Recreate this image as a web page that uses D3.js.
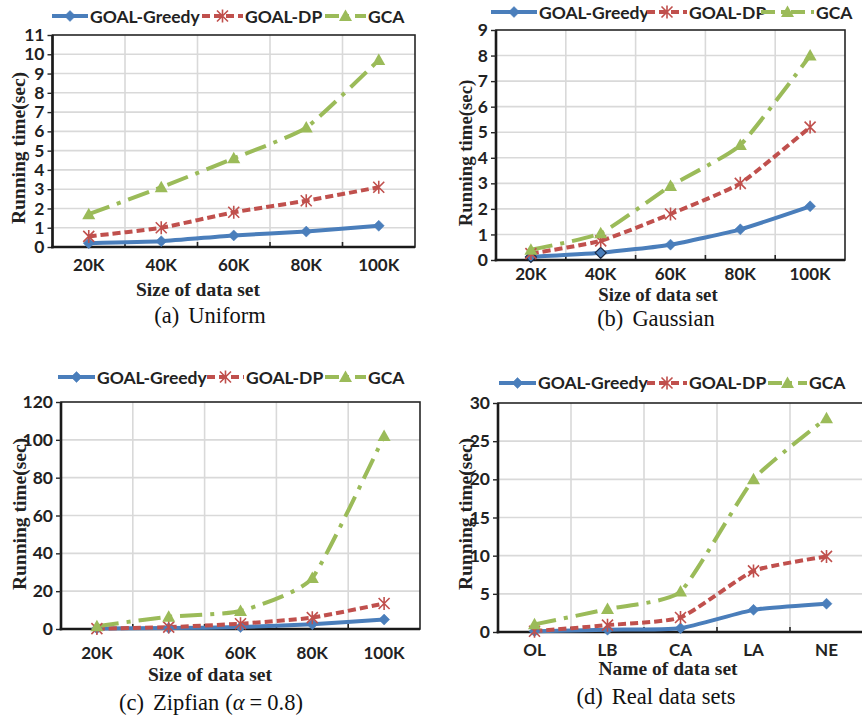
<!DOCTYPE html>
<html><head><meta charset="utf-8">
<script src="https://cdn.jsdelivr.net/npm/d3@7"></script>
<style>body{margin:0;background:#fff;} svg{display:block;}</style>
</head><body><svg id="c" width="862" height="720"></svg>
<script>
// ---------------- data ----------------
const seriesNames = ["GOAL-Greedy", "GOAL-DP", "GCA"];
const sizeCategories = ["20K", "40K", "60K", "80K", "100K"];
const realCategories = ["OL", "LB", "CA", "LA", "NE"];

const uniformGreedy = [0.2, 0.3, 0.6, 0.8, 1.1];
const uniformDP     = [0.55, 1.0, 1.8, 2.4, 3.1];
const uniformGCA    = [1.7, 3.1, 4.6, 6.2, 9.7];
const uniformTicks  = [0, 1, 2, 3, 4, 5, 6, 7, 8, 9, 10, 11];

const gaussianGreedy = [0.12, 0.28, 0.6, 1.2, 2.1];
const gaussianDP     = [0.25, 0.75, 1.8, 3.0, 5.2];
const gaussianGCA    = [0.4, 1.05, 2.9, 4.5, 8.0];
const gaussianTicks  = [0, 1, 2, 3, 4, 5, 6, 7, 8, 9];

const zipfGreedy = [0.3, 0.5, 1.0, 2.5, 5.0];
const zipfDP     = [0.2, 1.0, 2.8, 6.0, 13.5];
const zipfGCA    = [1.5, 6.5, 9.5, 27, 102];
const zipfTicks  = [0, 20, 40, 60, 80, 100, 120];

const realGreedy = [0.1, 0.3, 0.5, 2.9, 3.7];
const realDP     = [0.1, 0.9, 1.9, 8.0, 9.9];
const realGCA    = [1.0, 3.0, 5.3, 20, 28];
const realTicks  = [0, 5, 10, 15, 20, 25, 30];

const yTitle = "Running time(sec)";
const xTitleSize = "Size of data set";
const xTitleName = "Name of data set";

// ---------------- styles / layout ----------------
const colors = ["#4A7EBB", "#C0504D", "#9BBB59"];
const dashes = [null, "8,4", "22,8,4,8"];
const tickFont = "Lato, 'Open Sans', sans-serif";
const serif = "'Liberation Serif', 'Times New Roman', serif";

const panels = [
  { cats: sizeCategories, series: [uniformGreedy, uniformDP, uniformGCA], ticks: uniformTicks,
    left: 52.5, right: 415, top: 35, bottom: 247,
    legY: 16, legBase: 23, legS: [52, 202, 325], legT: [90, 245, 368],
    yT: [25, 148], yTSize: 19.5, xT: xTitleSize, xTPos: [198, 296], xTSize: 19.5, xTickBase: 271,
    cap: ["(a)", "Uniform"], capPos: [210, 323] },
  { cats: sizeCategories, series: [gaussianGreedy, gaussianDP, gaussianGCA], ticks: gaussianTicks,
    left: 496, right: 845, top: 30, bottom: 260, outlined: [0, 1],
    legY: 12, legBase: 18.5, legS: [491, 647, 761], legT: [539, 689, 816],
    yT: [472, 153], yTSize: 18.8, xT: xTitleSize, xTPos: [658, 300.5], xTSize: 18.8, xTickBase: 279.5,
    cap: ["(b)", "Gaussian"], capPos: [656, 326] },
  { cats: sizeCategories, series: [zipfGreedy, zipfDP, zipfGCA], ticks: zipfTicks,
    left: 61, right: 420, top: 402, bottom: 629,
    legY: 377, legBase: 384, legS: [58, 207, 325], legT: [97, 246, 368],
    yT: [26, 514], yTSize: 19.5, xT: xTitleSize, xTPos: [210, 681], xTSize: 19.5, xTickBase: 659,
    cap: ["(c)", "Zipfian"], capZipf: true, capPos: [211, 710] },
  { cats: realCategories, series: [realGreedy, realDP, realGCA], ticks: realTicks,
    left: 498, right: 863, top: 403, bottom: 632,
    legY: 383, legBase: 389, legS: [499, 647, 768], legT: [538, 689, 809],
    yT: [472, 514], yTSize: 19.5, xT: xTitleName, xTPos: [668, 675], xTSize: 19.5, xTickBase: 656,
    cap: ["(d)", "Real data sets"], capPos: [656, 704] }
];

const svg = d3.select("#c");
svg.append("rect").attr("width", 862).attr("height", 720).attr("fill", "#fff");

function drawMarker(g, type, x, y, color, outlined) {
  if (type === 0) {
    g.append("path").attr("d", `M${x},${y-5.5}L${x+5.5},${y}L${x},${y+5.5}L${x-5.5},${y}Z`)
      .attr("fill", color).attr("stroke", outlined ? "#1a2a44" : color).attr("stroke-width", outlined ? 1.2 : 0.5);
  } else if (type === 1) {
    const r = 5.5;
    g.append("path").attr("d",
      `M${x-r},${y-r}L${x+r},${y+r}M${x-r},${y+r}L${x+r},${y-r}M${x},${y-r-1}L${x},${y+r+1}`)
      .attr("stroke", color).attr("stroke-width", 1.6).attr("fill", "none");
  } else {
    g.append("path").attr("d", `M${x},${y-6.5}L${x+6.5},${y+5}L${x-6.5},${y+5}Z`).attr("fill", color);
  }
}

panels.forEach(p => {
  const g = svg.append("g");
  const x = d3.scaleBand().domain(p.cats).range([p.left, p.right]).padding(0);
  const y = d3.scaleLinear().domain([0, d3.max(p.ticks)]).range([p.bottom, p.top]);
  const cx = c => x(c) + x.bandwidth() / 2;

  // gridlines
  g.append("g").selectAll("line").data(p.ticks.slice(1, -1)).join("line")
    .attr("x1", p.left).attr("x2", p.right).attr("y1", d => y(d)).attr("y2", d => y(d))
    .attr("stroke", "#D9D9D9").attr("stroke-width", 1.6);
  g.append("g").selectAll("line").data(p.cats.slice(1)).join("line")
    .attr("x1", d => x(d)).attr("x2", d => x(d)).attr("y1", p.top).attr("y2", p.bottom)
    .attr("stroke", "#D9D9D9").attr("stroke-width", 1.6);

  // frame
  g.append("rect").attr("x", p.left).attr("y", p.top).attr("width", p.right - p.left).attr("height", p.bottom - p.top)
    .attr("fill", "none").attr("stroke", "#262626").attr("stroke-width", 1.6);
  // inner x ticks
  g.append("g").selectAll("line").data(p.cats.slice(1)).join("line")
    .attr("x1", d => x(d)).attr("x2", d => x(d)).attr("y1", p.bottom).attr("y2", p.bottom - 5)
    .attr("stroke", "#262626").attr("stroke-width", 1.6);

  // y axis
  const ya = g.append("g").attr("transform", `translate(${p.left},0)`)
    .call(d3.axisLeft(y).tickValues(p.ticks).tickSize(5).tickPadding(3).tickFormat(d3.format("d")));
  ya.select(".domain").attr("stroke", "#1a1a1a").attr("stroke-width", 2.6)
    .attr("d", `M0,${p.top}V${p.bottom + 1.3}`);
  ya.selectAll(".tick line").attr("stroke", "#262626").attr("stroke-width", 1.4);
  ya.selectAll("text").attr("font-family", tickFont).attr("font-weight", 700).attr("font-size", 17.5).attr("fill", "#222");

  // x axis
  const xa = g.append("g").attr("transform", `translate(0,${p.bottom})`)
    .call(d3.axisBottom(x).tickSize(0));
  xa.select(".domain").attr("stroke", "#1a1a1a").attr("stroke-width", 2.6)
    .attr("d", `M${p.left - 1.3},0H${p.right}`);
  xa.selectAll("text").attr("font-family", tickFont).attr("font-weight", 700).attr("font-size", 17)
    .attr("fill", "#222").attr("y", p.xTickBase - p.bottom).attr("dy", 0);

  // series
  p.series.forEach((vals, si) => {
    const line = d3.line().x((d, i) => cx(p.cats[i])).y(d => y(d)).curve(d3.curveCardinal.tension(0.5));
    g.append("path").datum(vals).attr("d", line).attr("fill", "none")
      .attr("stroke", colors[si]).attr("stroke-width", 4)
      .attr("stroke-dasharray", dashes[si]);
  });
  p.series.forEach((vals, si) => {
    const mg = g.append("g");
    vals.forEach((v, i) => drawMarker(mg, si, cx(p.cats[i]), y(v), colors[si],
      si === 0 && p.outlined && p.outlined.includes(i)));
  });

  // legend
  seriesNames.forEach((name, si) => {
    const s0 = p.legS[si], s1 = p.legT[si] - 2;
    g.append("line").attr("x1", s0).attr("x2", s1).attr("y1", p.legY).attr("y2", p.legY)
      .attr("stroke", colors[si]).attr("stroke-width", 4).attr("stroke-dasharray", si === 2 ? "14,6,4,6" : dashes[si]);
    drawMarker(g, si, (s0 + s1) / 2, p.legY, colors[si], false);
    g.append("text").attr("x", p.legT[si]).attr("y", p.legBase).text(name)
      .attr("font-family", tickFont).attr("font-weight", 700).attr("font-size", 17.5).attr("fill", "#222");
  });

  // titles
  g.append("text").attr("transform", `translate(${p.yT[0]},${p.yT[1]}) rotate(-90)`)
    .attr("text-anchor", "middle").attr("font-family", serif).attr("font-weight", 700)
    .attr("font-size", p.yTSize).attr("fill", "#222").text(yTitle);
  g.append("text").attr("x", p.xTPos[0]).attr("y", p.xTPos[1]).attr("text-anchor", "middle")
    .attr("font-family", serif).attr("font-weight", 700).attr("font-size", p.xTSize).attr("fill", "#222").text(p.xT);

  // caption
  const cap = g.append("text").attr("x", p.capPos[0]).attr("y", p.capPos[1]).attr("text-anchor", "middle")
    .attr("font-family", serif).attr("font-size", 22.5).attr("fill", "#111");
  cap.append("tspan").text(p.cap[0]);
  cap.append("tspan").attr("dx", 9).text(p.cap[1]);
  if (p.capZipf) {
    cap.append("tspan").attr("dx", 6).text("(");
    cap.append("tspan").attr("font-style", "italic").text("α");
    cap.append("tspan").attr("dx", 5).text("=");
    cap.append("tspan").attr("dx", 5).text("0.8)");
  }
});
</script></body></html>
